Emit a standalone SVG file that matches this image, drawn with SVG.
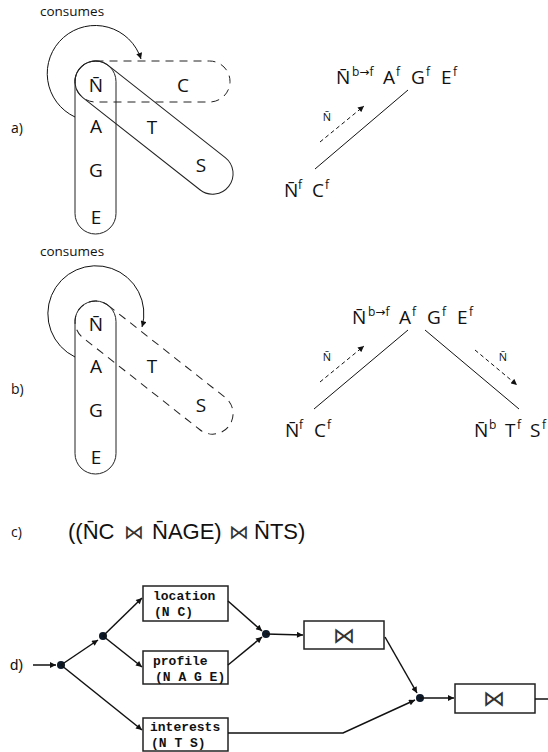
<svg xmlns="http://www.w3.org/2000/svg" width="548" height="752" viewBox="0 0 548 752">
<style>
.lbl{font-family:"Open Sans","Noto Sans","DejaVu Sans",sans-serif;font-size:14px;fill:#111}
.cons{font-family:"Open Sans","Noto Sans","DejaVu Sans",sans-serif;font-size:13.5px;fill:#111}
.big{font-family:"Open Sans","Noto Sans","DejaVu Sans",sans-serif;font-size:19px;fill:#111}
.sup{font-size:12px}
.sm{font-family:"Open Sans","Noto Sans","DejaVu Sans",sans-serif;font-size:11px;fill:#111}
.pill{fill:none;stroke:#222;stroke-width:1}
.dpill{fill:none;stroke:#222;stroke-width:1;stroke-dasharray:8,6}
.ln{fill:none;stroke:#111;stroke-width:1}
.dln{fill:none;stroke:#111;stroke-width:1;stroke-dasharray:4,3}
.wire{fill:none;stroke:#111;stroke-width:1.5}
.box{fill:#fff;stroke:#222;stroke-width:1.5}
.code{font-family:"Liberation Mono","Courier New",monospace;font-weight:bold;font-size:13px;fill:#111}
.dot{fill:#0d1a2a}
.form{font-family:"Liberation Sans",Arial,"DejaVu Sans",sans-serif;font-size:22px;fill:#111}
.join{font-family:"DejaVu Sans",sans-serif;font-size:20px;fill:#333}
.bjoin{font-family:"DejaVu Sans",sans-serif;font-size:22px;fill:#333}
</style>
<defs>
<marker id="ah" viewBox="0 0 10 10" refX="10" refY="5" markerWidth="9" markerHeight="6" markerUnits="userSpaceOnUse" orient="auto"><path d="M0,0 L10,5 L0,10 z" fill="#111"/></marker>
<marker id="ahs" viewBox="0 0 10 10" refX="10" refY="5" markerWidth="7" markerHeight="6" markerUnits="userSpaceOnUse" orient="auto"><path d="M0,0 L10,5 L0,10 z" fill="#111"/></marker>
</defs>

<!-- panel a -->
<g id="panel-a">
<text class="cons" x="40" y="16">consumes</text>
<text class="lbl" x="11" y="133">a)</text>
<rect class="dpill" x="75" y="61" width="155" height="41" rx="20.5"/>
<rect class="pill" x="75" y="61" width="41" height="173" rx="20.5"/>
<rect class="pill" x="-20.5" y="-20.5" width="190" height="41" rx="20.5" transform="translate(95.5,81.5) rotate(38.2)"/>
<path class="ln" d="M75,117 A48,48 0 1 1 141,59" marker-end="url(#ahs)"/>
<text class="big" text-anchor="middle"><tspan x="96" y="92">N̄</tspan><tspan x="96" y="133">A</tspan><tspan x="96" y="177">G</tspan><tspan x="96" y="224">E</tspan><tspan x="183" y="92">C</tspan><tspan x="152" y="134">T</tspan><tspan x="201" y="172">S</tspan></text>
</g>
<g id="tree-a">
<text class="big"><tspan x="336" y="84">N̄</tspan><tspan class="sup" x="352" y="76">b→f</tspan><tspan x="383" y="84">A</tspan><tspan class="sup" x="396" y="76">f</tspan><tspan x="411" y="84">G</tspan><tspan class="sup" x="426" y="76">f</tspan><tspan x="441" y="84">E</tspan><tspan class="sup" x="453" y="76">f</tspan></text>
<text class="big"><tspan x="284" y="197">N̄</tspan><tspan class="sup" x="298" y="189">f</tspan><tspan x="312" y="197">C</tspan><tspan class="sup" x="325" y="189">f</tspan></text>
<text class="sm" x="327" y="121" text-anchor="middle">N̄</text>
</g>

<!-- panel b -->
<g id="panel-b">
<text class="cons" x="40" y="256">consumes</text>
<text class="lbl" x="11" y="394">b)</text>
<rect class="pill" x="75" y="301" width="41" height="173" rx="20.5"/>
<rect class="dpill" x="-20.5" y="-20.5" width="190" height="41" rx="20.5" transform="translate(95.5,321.5) rotate(38.2)"/>
<path class="ln" d="M75,357 A48,48 0 1 1 142,327" marker-end="url(#ahs)"/>
<text class="big" text-anchor="middle"><tspan x="96" y="331">N̄</tspan><tspan x="96" y="373">A</tspan><tspan x="96" y="417">G</tspan><tspan x="96" y="464">E</tspan><tspan x="152" y="373">T</tspan><tspan x="201" y="412">S</tspan></text>
</g>
<g id="tree-b">
<text class="big"><tspan x="352" y="324">N̄</tspan><tspan class="sup" x="368" y="316">b→f</tspan><tspan x="399" y="324">A</tspan><tspan class="sup" x="412" y="316">f</tspan><tspan x="427" y="324">G</tspan><tspan class="sup" x="442" y="316">f</tspan><tspan x="457" y="324">E</tspan><tspan class="sup" x="469" y="316">f</tspan></text>
<text class="big"><tspan x="285" y="437">N̄</tspan><tspan class="sup" x="299" y="429">f</tspan><tspan x="314" y="437">C</tspan><tspan class="sup" x="327" y="429">f</tspan></text>
<text class="big"><tspan x="474" y="437">N̄</tspan><tspan class="sup" x="489" y="429">b</tspan><tspan x="505" y="437">T</tspan><tspan class="sup" x="517" y="429">f</tspan><tspan x="530" y="437">S</tspan><tspan class="sup" x="542" y="429">f</tspan></text>
<text class="sm" x="327" y="361" text-anchor="middle">N̄</text>
<text class="sm" x="503" y="361" text-anchor="middle">N̄</text>
</g>

<!-- panel c -->
<g id="panel-c">
<text class="lbl" x="11" y="537">c)</text>
<text class="form"><tspan x="68" y="539">((N̄C</tspan><tspan class="join" x="124" y="539">⋈</tspan><tspan x="152" y="539">N̄AGE)</tspan><tspan class="join" x="229" y="539">⋈</tspan><tspan x="254" y="539">N̄TS)</tspan></text>
</g>

<!-- panel d nodes -->
<g id="label-d"><text class="form" style="font-size:15px" x="10" y="670">d)</text></g>
<g id="dot1"><circle class="dot" cx="61" cy="665" r="4"/></g>
<g id="dot2"><circle class="dot" cx="103" cy="636" r="4"/></g>
<g id="dot3"><circle class="dot" cx="266" cy="634" r="4"/></g>
<g id="dot4"><circle class="dot" cx="420" cy="698" r="4"/></g>
<g id="location"><rect class="box" x="143" y="586" width="85" height="35"/><text class="code"><tspan x="153" y="600">location</tspan><tspan x="154" y="616">(N C)</tspan></text></g>
<g id="profile"><rect class="box" x="143" y="651" width="85" height="33"/><text class="code"><tspan x="153" y="665">profile</tspan><tspan x="155" y="681">(N A G E)</tspan></text></g>
<g id="interests"><rect class="box" x="143" y="718" width="85" height="33"/><text class="code"><tspan x="150" y="731">interests</tspan><tspan x="151" y="747">(N T S)</tspan></text></g>
<g id="join1"><rect class="box" x="304" y="621" width="80" height="28"/><text class="bjoin" x="344" y="643" text-anchor="middle">⋈</text></g>
<g id="join2"><rect class="box" x="455" y="684" width="80" height="29"/><text class="bjoin" x="494" y="706" text-anchor="middle">⋈</text></g>

<!-- connectors -->
<g id="connectors">
<path class="ln" d="M408,90 L315,169"/>
<path class="dln" d="M320,142 L364,106" marker-end="url(#ahs)"/>
<path class="ln" d="M314,409 L408,330"/>
<path class="ln" d="M425,330 L519,409"/>
<path class="dln" d="M320,382 L364,346" marker-end="url(#ahs)"/>
<path class="dln" d="M475,350 L517,385" marker-end="url(#ahs)"/>
<path class="wire" d="M33,665 L56,665" marker-end="url(#ah)"/>
<path class="wire" d="M61,665 L98,640" marker-end="url(#ah)"/>
<path class="wire" d="M103,636 L142,598" marker-end="url(#ah)"/>
<path class="wire" d="M103,636 L142,667" marker-end="url(#ah)"/>
<path class="wire" d="M61,665 L142,730" marker-end="url(#ah)"/>
<path class="wire" d="M228,601 L262,631" marker-end="url(#ah)"/>
<path class="wire" d="M228,665 L262,637" marker-end="url(#ah)"/>
<path class="wire" d="M266,634 L303,635" marker-end="url(#ah)"/>
<path class="wire" d="M385,637 L417,693" marker-end="url(#ah)"/>
<path class="wire" d="M228,733 L343,733 L415,700" marker-end="url(#ah)"/>
<path class="wire" d="M420,698 L454,698" marker-end="url(#ah)"/>
<path class="wire" d="M535,699 L548,699"/>
</g>
</svg>
